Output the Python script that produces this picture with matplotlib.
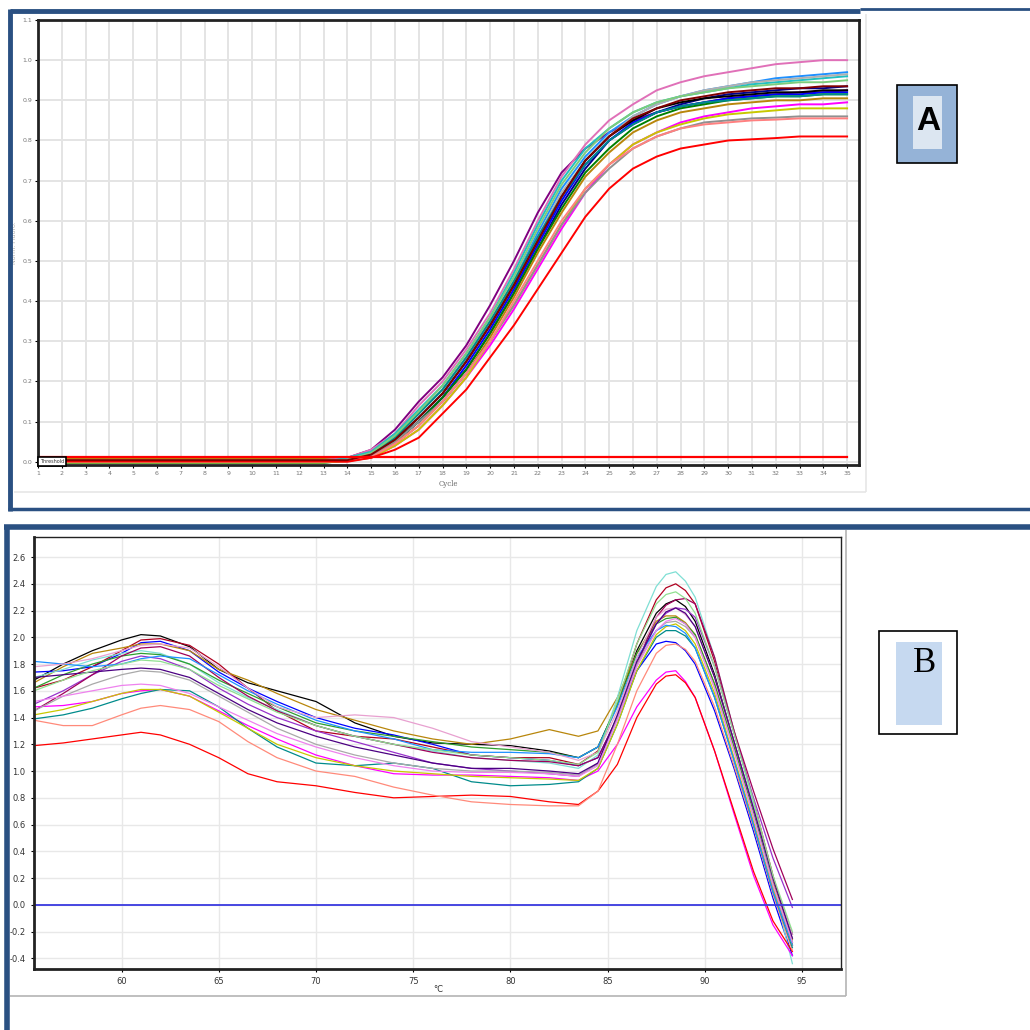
import numpy as np
import matplotlib
matplotlib.use("Agg")
import matplotlib.pyplot as plt
from matplotlib.patches import Rectangle
from matplotlib.lines import Line2D

W = 1030.0

# ---------------- panel A : amplification curves ----------------
cycles_base = [1, 13]
cycles = list(range(14, 36))
amp_colors = ["#800080", "#e070b8", "#20c0c0", "#1e90ff", "#b0b0b0", "#00008b",
              "#0000ff", "#008000", "#000000", "#b8860b", "#008b8b", "#ff00ff",
              "#c8c800", "#7ccd7c", "#909090", "#ff8080", "#ff0000", "#800000"]
amp_baseline = [0.002, 0.004, 0.0, -0.002, 0.003, 0.006, 0.001, -0.001, 0.0,
                0.007, -0.003, 0.002, -0.002, 0.001, 0.003, 0.0, 0.001, 0.004]
amp_values = [
    [0.01, 0.03, 0.08, 0.15, 0.21, 0.29, 0.39, 0.50, 0.62, 0.72, 0.78, 0.82, 0.85, 0.87, 0.885, 0.895, 0.905, 0.91, 0.915, 0.92, 0.92, 0.925],
    [0.01, 0.03, 0.07, 0.14, 0.20, 0.28, 0.37, 0.48, 0.60, 0.71, 0.79, 0.85, 0.89, 0.925, 0.945, 0.96, 0.97, 0.98, 0.99, 0.995, 1.0, 1.0],
    [0.01, 0.025, 0.07, 0.13, 0.19, 0.27, 0.36, 0.47, 0.59, 0.70, 0.78, 0.83, 0.87, 0.895, 0.91, 0.92, 0.93, 0.94, 0.945, 0.95, 0.955, 0.96],
    [0.005, 0.02, 0.06, 0.12, 0.18, 0.26, 0.35, 0.45, 0.57, 0.68, 0.76, 0.82, 0.86, 0.89, 0.91, 0.925, 0.935, 0.945, 0.955, 0.96, 0.965, 0.97],
    [0.005, 0.02, 0.06, 0.12, 0.18, 0.26, 0.35, 0.45, 0.56, 0.67, 0.75, 0.81, 0.86, 0.89, 0.91, 0.925, 0.935, 0.945, 0.95, 0.955, 0.96, 0.965],
    [0.003, 0.015, 0.05, 0.10, 0.16, 0.23, 0.32, 0.42, 0.53, 0.64, 0.73, 0.80, 0.84, 0.87, 0.89, 0.905, 0.915, 0.92, 0.925, 0.93, 0.93, 0.935],
    [0.003, 0.015, 0.05, 0.10, 0.16, 0.24, 0.33, 0.43, 0.54, 0.65, 0.74, 0.80, 0.845, 0.87, 0.885, 0.895, 0.905, 0.91, 0.915, 0.915, 0.92, 0.92],
    [0.003, 0.015, 0.05, 0.10, 0.16, 0.23, 0.32, 0.42, 0.53, 0.63, 0.72, 0.78, 0.83, 0.86, 0.88, 0.89, 0.90, 0.905, 0.91, 0.91, 0.915, 0.915],
    [0.004, 0.018, 0.055, 0.11, 0.17, 0.25, 0.34, 0.44, 0.55, 0.66, 0.75, 0.81, 0.85, 0.88, 0.895, 0.905, 0.91, 0.915, 0.92, 0.92, 0.925, 0.925],
    [0.002, 0.012, 0.045, 0.09, 0.15, 0.22, 0.31, 0.41, 0.52, 0.62, 0.71, 0.77, 0.82, 0.85, 0.87, 0.88, 0.89, 0.895, 0.90, 0.90, 0.905, 0.905],
    [0.004, 0.02, 0.06, 0.12, 0.18, 0.26, 0.35, 0.45, 0.56, 0.66, 0.74, 0.80, 0.84, 0.87, 0.885, 0.895, 0.90, 0.905, 0.91, 0.91, 0.915, 0.915],
    [0.002, 0.01, 0.04, 0.08, 0.14, 0.21, 0.29, 0.38, 0.48, 0.58, 0.67, 0.74, 0.79, 0.82, 0.845, 0.86, 0.87, 0.88, 0.885, 0.89, 0.89, 0.895],
    [0.002, 0.01, 0.04, 0.08, 0.14, 0.21, 0.30, 0.39, 0.49, 0.59, 0.68, 0.74, 0.79, 0.82, 0.84, 0.855, 0.865, 0.87, 0.875, 0.88, 0.88, 0.88],
    [0.005, 0.022, 0.065, 0.125, 0.19, 0.27, 0.36, 0.46, 0.58, 0.69, 0.77, 0.83, 0.87, 0.895, 0.91, 0.92, 0.93, 0.935, 0.94, 0.945, 0.945, 0.95],
    [0.003, 0.015, 0.05, 0.10, 0.15, 0.22, 0.30, 0.39, 0.49, 0.59, 0.67, 0.73, 0.78, 0.81, 0.83, 0.845, 0.85, 0.855, 0.857, 0.86, 0.86, 0.86],
    [0.002, 0.012, 0.045, 0.09, 0.15, 0.22, 0.30, 0.40, 0.50, 0.60, 0.68, 0.74, 0.78, 0.81, 0.83, 0.84, 0.845, 0.85, 0.852, 0.855, 0.855, 0.855],
    [0.0, 0.01, 0.03, 0.06, 0.12, 0.18, 0.26, 0.34, 0.43, 0.52, 0.61, 0.68, 0.73, 0.76, 0.78, 0.79, 0.80, 0.803, 0.806, 0.81, 0.81, 0.81],
    [0.004, 0.018, 0.055, 0.11, 0.17, 0.25, 0.34, 0.44, 0.55, 0.66, 0.75, 0.81, 0.855, 0.88, 0.90, 0.91, 0.92, 0.925, 0.93, 0.93, 0.935, 0.935],
]
threshold = 0.012
amp_xticks = list(range(1, 36))
amp_yticks = [0.0, 0.1, 0.2, 0.3, 0.4, 0.5, 0.6, 0.7, 0.8, 0.9, 1.0, 1.1]

# ---------------- panel B : melt curves ----------------
temps = [55.5, 57, 58.5, 60, 61, 62, 63.5, 65, 66.5, 68, 70, 72, 74, 76, 78, 80,
         82, 83.5, 84.5, 85.5, 86.5, 87.5, 88, 88.5, 89, 89.5, 90.5, 91.5, 92.5,
         93.5, 94.5]
melt_colors = ["#000000", "#0000ff", "#b00020", "#b8860b", "#7fdfd4", "#2e9e2e",
               "#9932cc", "#a0005a", "#ff00ff", "#ff0000", "#ff8a7a", "#008b8b",
               "#c8c800", "#a9a9a9", "#1e90ff", "#e8a0d0", "#4b0082", "#90e090",
               "#ee82ee"]
melt_values = [
    [1.68, 1.80, 1.90, 1.98, 2.02, 2.01, 1.93, 1.76, 1.66, 1.60, 1.52, 1.36, 1.26, 1.21, 1.20, 1.19, 1.15, 1.10, 1.18, 1.50, 1.90, 2.18, 2.25, 2.28, 2.23, 2.12, 1.72, 1.22, 0.72, 0.20, -0.22],
    [1.74, 1.75, 1.78, 1.88, 1.96, 1.97, 1.90, 1.74, 1.62, 1.52, 1.40, 1.32, 1.27, 1.20, 1.12, 1.10, 1.08, 1.04, 1.10, 1.40, 1.75, 1.95, 1.97, 1.96, 1.90, 1.80, 1.45, 1.02, 0.55, 0.05, -0.38],
    [1.62, 1.68, 1.78, 1.90, 1.98, 1.99, 1.94, 1.80, 1.62, 1.45, 1.30, 1.26, 1.24, 1.18, 1.12, 1.10, 1.10, 1.05, 1.15, 1.50, 1.95, 2.28, 2.37, 2.40, 2.35, 2.25, 1.82, 1.30, 0.78, 0.22, -0.30],
    [1.66, 1.78, 1.88, 1.92, 1.95, 1.95, 1.90, 1.76, 1.68, 1.58, 1.46, 1.38, 1.30, 1.24, 1.20, 1.24, 1.31, 1.26, 1.30, 1.55, 1.88, 2.12, 2.16, 2.16, 2.11, 2.02, 1.65, 1.18, 0.70, 0.18, -0.26],
    [1.70, 1.76, 1.83, 1.88, 1.90, 1.88, 1.80, 1.66, 1.55, 1.46, 1.34, 1.26, 1.20, 1.15, 1.10, 1.08, 1.06, 1.02, 1.12, 1.55, 2.05, 2.38, 2.47, 2.49, 2.42, 2.30, 1.85, 1.30, 0.75, 0.15, -0.44],
    [1.62, 1.72, 1.80, 1.86, 1.88, 1.87, 1.80, 1.68, 1.58, 1.48, 1.36, 1.30, 1.26, 1.22, 1.18, 1.16, 1.14, 1.10, 1.18, 1.50, 1.88, 2.10, 2.14, 2.15, 2.10, 2.02, 1.65, 1.18, 0.70, 0.15, -0.28],
    [1.50, 1.60, 1.72, 1.82, 1.86, 1.84, 1.76, 1.62, 1.50, 1.40, 1.30, 1.22, 1.14, 1.06, 1.02, 1.00, 0.98, 0.96, 1.06, 1.40, 1.80, 2.10, 2.18, 2.22, 2.21, 2.15, 1.78, 1.28, 0.80, 0.35, -0.02],
    [1.45, 1.58, 1.72, 1.86, 1.92, 1.93, 1.86, 1.70, 1.56, 1.45, 1.34, 1.26, 1.20, 1.14, 1.10, 1.08, 1.07, 1.04, 1.10, 1.40, 1.80, 2.15, 2.24, 2.28, 2.29, 2.25, 1.85, 1.30, 0.85, 0.42, 0.04],
    [1.48, 1.49, 1.52, 1.58, 1.60, 1.61, 1.56, 1.45, 1.34, 1.24, 1.12, 1.04, 0.98, 0.97, 0.97, 0.96, 0.95, 0.93, 1.00, 1.20, 1.48, 1.68, 1.74, 1.75, 1.67, 1.55, 1.15, 0.68, 0.22, -0.15, -0.38],
    [1.19, 1.21, 1.24, 1.27, 1.29, 1.27, 1.20, 1.10, 0.98, 0.92, 0.89, 0.84, 0.80, 0.81, 0.82, 0.81, 0.77, 0.75, 0.85, 1.05, 1.40, 1.65, 1.71, 1.72, 1.66, 1.55, 1.15, 0.70, 0.25, -0.12, -0.35],
    [1.38, 1.34, 1.34, 1.42, 1.47, 1.49, 1.46, 1.37, 1.22, 1.10, 1.00, 0.96, 0.88, 0.82, 0.77, 0.75, 0.74, 0.74, 0.85, 1.20, 1.60, 1.88, 1.94, 1.95, 1.91, 1.82, 1.48, 1.04, 0.58, 0.08, -0.34],
    [1.39, 1.42, 1.47, 1.54, 1.58, 1.61, 1.60, 1.48, 1.32, 1.18, 1.06, 1.04, 1.06, 1.02, 0.92, 0.89, 0.90, 0.92, 1.02, 1.35, 1.75, 2.00, 2.05, 2.05, 2.01, 1.92, 1.55, 1.08, 0.60, 0.10, -0.32],
    [1.42, 1.46, 1.52, 1.58, 1.61, 1.61, 1.56, 1.44, 1.32, 1.20, 1.10, 1.04, 1.00, 0.98, 0.96, 0.95, 0.94, 0.93, 1.02, 1.35, 1.75, 2.02, 2.08, 2.10, 2.05, 1.95, 1.58, 1.10, 0.62, 0.12, -0.30],
    [1.45, 1.56, 1.65, 1.72, 1.75, 1.74, 1.68, 1.56, 1.44, 1.32, 1.20, 1.12, 1.06, 1.02, 1.00, 1.00, 0.99, 0.97, 1.05, 1.40, 1.80, 2.05, 2.11, 2.12, 2.08, 2.00, 1.62, 1.15, 0.66, 0.15, -0.25],
    [1.82, 1.80, 1.78, 1.80, 1.84, 1.86, 1.84, 1.72, 1.60, 1.50, 1.38, 1.30, 1.24, 1.16, 1.14, 1.14, 1.13, 1.10, 1.18, 1.48, 1.85, 2.05, 2.09, 2.08, 2.03, 1.92, 1.55, 1.08, 0.60, 0.10, -0.30],
    [1.78, 1.80, 1.84, 1.90, 1.94, 1.95, 1.92, 1.78, 1.62, 1.48, 1.40, 1.42, 1.40, 1.32, 1.22, 1.18, 1.14, 1.08, 1.14, 1.45, 1.85, 2.15, 2.21, 2.22, 2.17, 2.08, 1.70, 1.22, 0.72, 0.20, -0.22],
    [1.70, 1.72, 1.74, 1.76, 1.77, 1.76, 1.70, 1.58, 1.46, 1.36, 1.26, 1.18, 1.12, 1.06, 1.02, 1.02, 1.00, 0.98, 1.06, 1.42, 1.82, 2.10, 2.19, 2.22, 2.18, 2.08, 1.70, 1.22, 0.72, 0.20, -0.25],
    [1.60, 1.68, 1.75, 1.80, 1.83, 1.82, 1.76, 1.64, 1.54, 1.44, 1.34, 1.26, 1.20, 1.16, 1.12, 1.10, 1.08, 1.05, 1.14, 1.52, 1.95, 2.25, 2.32, 2.34, 2.29, 2.18, 1.78, 1.28, 0.78, 0.22, -0.20],
    [1.52, 1.56, 1.60, 1.64, 1.65, 1.64, 1.58, 1.48, 1.38, 1.28, 1.18, 1.10, 1.04, 1.00, 0.99, 0.99, 0.98, 0.96, 1.04, 1.38, 1.78, 2.05, 2.12, 2.14, 2.10, 2.00, 1.62, 1.15, 0.66, 0.15, -0.28],
]
melt_xticks = [60, 65, 70, 75, 80, 85, 90, 95]
melt_yticks = [-0.4, -0.2, 0.0, 0.2, 0.4, 0.6, 0.8, 1.0, 1.2, 1.4, 1.6, 1.8, 2.0, 2.2, 2.4, 2.6]


def fx(px):
    return px / W


def fy(py):
    return 1 - py / W


def frame_line(fig, xs, ys, color, lw):
    fig.add_artist(Line2D([fx(x) for x in xs], [fy(y) for y in ys],
                          color=color, lw=lw, solid_capstyle="butt"))


fig = plt.figure(figsize=(10.3, 10.3), dpi=100)
frame_blue = "#2a5082"

# window frames
frame_line(fig, [10, 860], [11, 11], frame_blue, 3.5)
frame_line(fig, [860, 1030], [9, 9], frame_blue, 2)
frame_line(fig, [10, 10], [9, 511], frame_blue, 3.5)
frame_line(fig, [8, 1030], [509, 509], frame_blue, 2.5)
frame_line(fig, [14, 866], [492, 492], "#e6e6e6", 1.2)
frame_line(fig, [866, 866], [14, 492], "#e6e6e6", 1.2)

frame_line(fig, [4, 1030], [527, 527], frame_blue, 4)
frame_line(fig, [7, 7], [525, 1030], frame_blue, 4)
frame_line(fig, [10, 846], [996, 996], "#b4b4b4", 1.2)
frame_line(fig, [846, 846], [530, 996], "#b4b4b4", 1.2)

# ---- panel A
ax1 = fig.add_axes([fx(38), fy(465), fx(859 - 38), (465 - 20) / W])
for col, base, vals in zip(amp_colors, amp_baseline, amp_values):
    ax1.plot(cycles_base + cycles, [base, base] + vals, color=col, lw=1.4)
ax1.plot([amp_xticks[0], amp_xticks[-1]], [threshold, threshold], color="#ff0000", lw=1.6)
ax1.set_xlim(1, 35.5)
ax1.set_ylim(-0.008, 1.1)
ax1.set_xticks(amp_xticks)
ax1.set_yticks(amp_yticks)
ax1.set_yticklabels([f"{v:.1f}" for v in amp_yticks])
ax1.grid(True, color="#e4e4e4", lw=1.4)
ax1.set_axisbelow(True)
ax1.tick_params(labelsize=4.5, labelcolor="#777777", length=2, width=0.8, pad=2)
for s in ax1.spines.values():
    s.set_color("#222222")
    s.set_linewidth(2)
ax1.set_xlabel("Cycle", fontsize=5, color="#666666", family="DejaVu Serif", labelpad=3)
ax1.set_ylabel("Norm. Fluoro.", fontsize=4.5, color="#aaaaaa", labelpad=4)
fig.text(fx(40), fy(464), "Threshold", fontsize=3.5, color="#333333", va="bottom",
         bbox=dict(boxstyle="square,pad=0.35", fc="white", ec="black", lw=1.2))

# ---- panel B
ax2 = fig.add_axes([fx(34), fy(969), fx(841 - 34), (969 - 537) / W])
for col, vals in zip(melt_colors, melt_values):
    ax2.plot(temps, vals, color=col, lw=0.9)
ax2.axhline(0.0, color="#3a3ae0", lw=1.3)
ax2.set_xlim(55.5, 97)
ax2.set_ylim(-0.48, 2.75)
ax2.set_xticks(melt_xticks)
ax2.set_yticks(melt_yticks)
ax2.set_yticklabels([f"{v:.1f}" for v in melt_yticks])
ax2.grid(True, color="#e8e8e8", lw=1.0)
ax2.set_axisbelow(True)
ax2.tick_params(labelsize=6, labelcolor="#333333", length=2, width=0.8, pad=4)
ax2.spines["left"].set_linewidth(2)
ax2.spines["bottom"].set_linewidth(2)
ax2.spines["top"].set_linewidth(1)
ax2.spines["right"].set_linewidth(1)
for s in ax2.spines.values():
    s.set_color("#222222")
fig.text(fx(438), fy(990), "°C", fontsize=6, color="#333333", ha="center", va="center")

# ---- label boxes
fig.add_artist(Rectangle((fx(897), fy(163)), fx(60), 78 / W, fc="#95b3d7", ec="black", lw=1.2))
fig.add_artist(Rectangle((fx(913), fy(149)), fx(29), 53 / W, fc="#dce6f1", ec="none"))
fig.text(fx(928), fy(121), "A", fontsize=24, fontweight="bold", family="Liberation Sans",
         ha="center", va="center", color="black")

fig.add_artist(Rectangle((fx(879), fy(734)), fx(78), 103 / W, fc="white", ec="black", lw=1.2))
fig.add_artist(Rectangle((fx(896), fy(725)), fx(46), 83 / W, fc="#c6d9f0", ec="none"))
fig.text(fx(925), fy(664), "B", fontsize=25, family="Liberation Serif",
         ha="center", va="center", color="black")

fig.savefig("out.png", dpi=100)
